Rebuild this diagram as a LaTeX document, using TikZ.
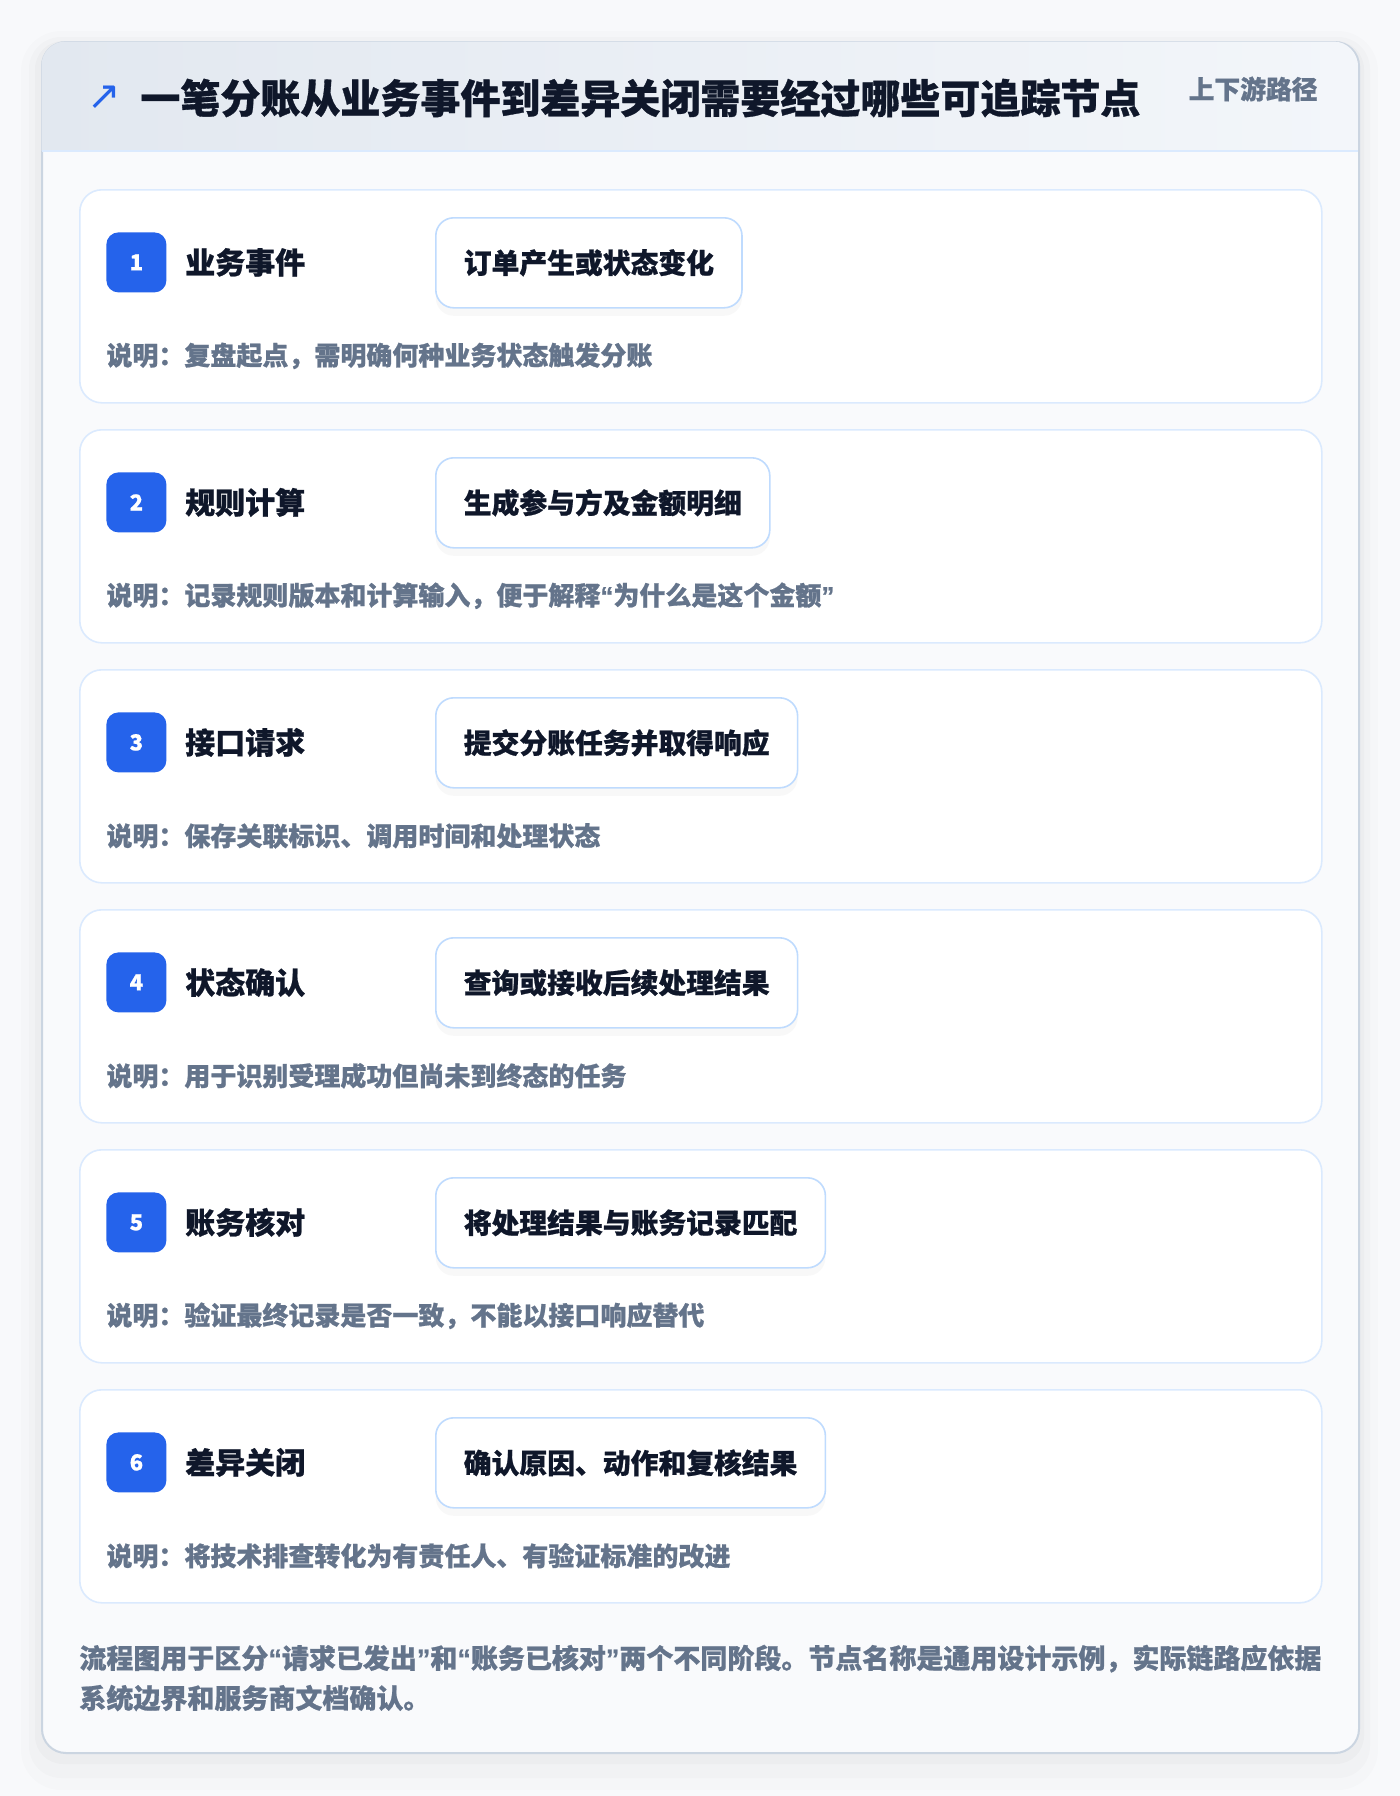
\documentclass[tikz,border=0pt]{standalone}
\usepackage{fontspec}
\setmainfont{Noto Sans CJK SC}[BoldFeatures={FakeBold=0.8}]
\newfontfamily\symfont{DejaVu Sans}
\newfontfamily\quotefont{Liberation Sans}[BoldFeatures={FakeBold=0.8}]
\newcommand\qopen{{\quotefont “}}
\newcommand\qclose{{\quotefont ”}}
\usetikzlibrary{positioning, calc, shadows}

\definecolor{pagebg}{HTML}{F8F9FB}
\definecolor{panelbg}{HTML}{F9FAFC}
\definecolor{panelline}{HTML}{CBD5E1}
\definecolor{hdrleft}{HTML}{E2E8F0}
\definecolor{hdrright}{HTML}{F3F6FA}
\definecolor{hdrline}{HTML}{DBEAFE}
\definecolor{cardline}{HTML}{DBEAFE}
\definecolor{boxline}{HTML}{BFDBFE}
\definecolor{badgeblue}{HTML}{2563EB}
\definecolor{ink}{HTML}{0F172A}
\definecolor{muted}{HTML}{64748B}

\begin{document}
\begin{tikzpicture}[
  x=0.5pt, y=-0.5pt,
  panel/.style = {draw=panelline, line width=1pt, fill=panelbg, rounded corners=12pt,
    anchor=north west, minimum width=658.5pt, minimum height=855.5pt, inner sep=0pt},
  stepcard/.style = {draw=cardline, line width=0.8pt, fill=white, rounded corners=11pt,
    anchor=north west, minimum width=621pt, minimum height=106.5pt, inner sep=0pt},
  badge/.style = {fill=badgeblue, rounded corners=6pt, minimum size=30pt, inner sep=0pt,
    text=white, font=\bfseries\fontsize{11}{11}\selectfont},
  steplabel/.style = {inner sep=0pt, anchor=west, text=ink, font=\bfseries\fontsize{15}{15}\selectfont},
  action/.style = {draw=boxline, line width=0.8pt, fill=white, rounded corners=9pt,
    minimum height=45pt, inner xsep=14pt, inner ysep=0pt, text=ink,
    font=\bfseries\fontsize{13.9}{14}\selectfont,
    drop shadow={shadow xshift=0pt, shadow yshift=-4pt, opacity=0.05}},
  note/.style = {inner sep=0pt, text=muted, font=\bfseries\fontsize{13}{13}\selectfont},
]

\useasboundingbox (0,0) rectangle (1400,1796);
\fill[pagebg] (0,0) rectangle (1400,1796);

% soft shadow round the panel
\fill[black, opacity=0.012, rounded corners=20pt] (21,31) rectangle (1378,1790);
\fill[black, opacity=0.015, rounded corners=16pt] (29,37) rectangle (1370,1778);
\fill[black, opacity=0.02, rounded corners=14pt] (35,41) rectangle (1364,1764);

% Panel
\node[panel] (panel) at (41,41) {};

% Header band
\shade[left color=hdrleft, right color=hdrright]
  (41.5,151) [rounded corners=12pt] -- (41.5,41.5) -- (1357.5,41.5) [sharp corners] -- (1357.5,151) -- cycle;
\draw[hdrline, line width=1pt] (41.5,151) -- (1357.5,151);

% Title
\node[inner sep=0pt, anchor=west, text=ink, font=\bfseries\fontsize{20}{20}\selectfont] (title)
  at (140,98) {一笔分账从业务事件到差异关闭需要经过哪些可追踪节点};
\node[inner sep=0pt, text=badgeblue, font=\symfont\fontsize{20}{20}\selectfont, left=9.5pt of title] (icon) {↗};
\node[inner sep=0pt, anchor=east, text=muted, font=\bfseries\fontsize{12.9}{13}\selectfont] (scope)
  at (1318,89) {上下游路径};

% Step 1
\node[stepcard] (card1) at (79,189) {};
\node[badge, below right=21.5pt and 13.5pt of card1.north west] (b1) {1};
\node[steplabel, right=9pt of b1] (l1) {业务事件};
\node[action, below right=14pt and 178pt of card1.north west] (a1) {订单产生或状态变化};
\node[note, below=31.5pt of b1.south west, anchor=west] (n1) {说明：复盘起点，需明确何种业务状态触发分账};

% Step 2
\node[stepcard] (card2) at (79,429) {};
\node[badge, below right=21.5pt and 13.5pt of card2.north west] (b2) {2};
\node[steplabel, right=9pt of b2] (l2) {规则计算};
\node[action, below right=14pt and 178pt of card2.north west] (a2) {生成参与方及金额明细};
\node[note, below=31.5pt of b2.south west, anchor=west] (n2) {说明：记录规则版本和计算输入，便于解释\qopen 为什么是这个金额\qclose};

% Step 3
\node[stepcard] (card3) at (79,669) {};
\node[badge, below right=21.5pt and 13.5pt of card3.north west] (b3) {3};
\node[steplabel, right=9pt of b3] (l3) {接口请求};
\node[action, below right=14pt and 178pt of card3.north west] (a3) {提交分账任务并取得响应};
\node[note, below=31.5pt of b3.south west, anchor=west] (n3) {说明：保存关联标识、调用时间和处理状态};

% Step 4
\node[stepcard] (card4) at (79,909) {};
\node[badge, below right=21.5pt and 13.5pt of card4.north west] (b4) {4};
\node[steplabel, right=9pt of b4] (l4) {状态确认};
\node[action, below right=14pt and 178pt of card4.north west] (a4) {查询或接收后续处理结果};
\node[note, below=31.5pt of b4.south west, anchor=west] (n4) {说明：用于识别受理成功但尚未到终态的任务};

% Step 5
\node[stepcard] (card5) at (79,1149) {};
\node[badge, below right=21.5pt and 13.5pt of card5.north west] (b5) {5};
\node[steplabel, right=9pt of b5] (l5) {账务核对};
\node[action, below right=14pt and 178pt of card5.north west] (a5) {将处理结果与账务记录匹配};
\node[note, below=31.5pt of b5.south west, anchor=west] (n5) {说明：验证最终记录是否一致，不能以接口响应替代};

% Step 6
\node[stepcard] (card6) at (79,1389) {};
\node[badge, below right=21.5pt and 13.5pt of card6.north west] (b6) {6};
\node[steplabel, right=9pt of b6] (l6) {差异关闭};
\node[action, below right=14pt and 178pt of card6.north west] (a6) {确认原因、动作和复核结果};
\node[note, below=31.5pt of b6.south west, anchor=west] (n6) {说明：将技术排查转化为有责任人、有验证标准的改进};

% Footer
\node[inner sep=0pt, anchor=west, align=left, text=muted, font=\bfseries\fontsize{13.5}{20}\selectfont] (footer)
  at (79,1678) {流程图用于区分\qopen 请求已发出\qclose 和\qopen 账务已核对\qclose 两个不同阶段。节点名称是通用设计示例，实际链路应依据\\系统边界和服务商文档确认。};

\end{tikzpicture}
\end{document}
